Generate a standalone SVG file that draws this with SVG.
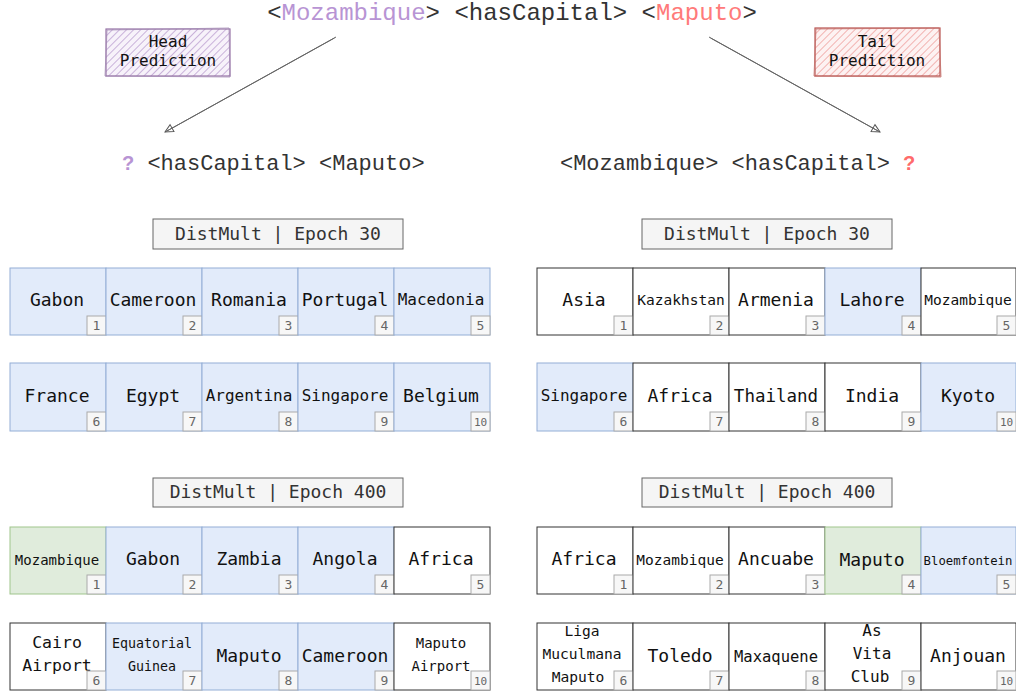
<svg xmlns="http://www.w3.org/2000/svg" width="1016" height="691" viewBox="0 0 1016 691">
<style>
.mono{font-family:"DejaVu Sans Mono","Liberation Mono",monospace;}
.cour{font-family:"Liberation Mono","Courier New",monospace;fill:#333;}
.cell text{font-family:"DejaVu Sans Mono","Liberation Mono",monospace;fill:#111;text-anchor:middle;}
.blue{fill:#e2ebfa;stroke:#93aed6;stroke-width:1;}
.white{fill:#ffffff;stroke:#333;stroke-width:1;}
.green{fill:#e0ecdc;stroke:#9fc58c;stroke-width:1;}
.nb{fill:#f7f7f7;stroke:#aaa;stroke-width:1;}
.cell text.n{font-size:13px;fill:#666;}
.cell text.n2{font-size:11px;fill:#666;}
.title rect{fill:#f5f5f5;stroke:#666;stroke-width:1;}
.title text{font-family:"DejaVu Sans Mono","Liberation Mono",monospace;font-size:18px;fill:#333;text-anchor:middle;}
.conn{stroke:#666;stroke-width:1;fill:none;}
.lbl text{font-family:"DejaVu Sans Mono","Liberation Mono",monospace;font-size:16px;fill:#111;text-anchor:middle;}
</style>
<defs>
<pattern id="hatchP" width="5" height="5" patternUnits="userSpaceOnUse" patternTransform="rotate(45)">
<rect width="5" height="5" fill="#f7f2fa"/>
<line x1="0" y1="0" x2="0" y2="5" stroke="#c9b2da" stroke-width="2"/>
</pattern>
<pattern id="hatchR" width="5" height="5" patternUnits="userSpaceOnUse" patternTransform="rotate(45)">
<rect width="5" height="5" fill="#fdf2f2"/>
<line x1="0" y1="0" x2="0" y2="5" stroke="#f2b3b1" stroke-width="2"/>
</pattern>
<marker id="arr" markerWidth="12" markerHeight="12" refX="10" refY="6" orient="auto" markerUnits="userSpaceOnUse">
<path d="M2,2 L10,6 L2,10 Z" fill="none" stroke="#555" stroke-width="1"/>
</marker>
</defs>
<rect width="1016" height="691" fill="#ffffff"/>

<g id="query-top">
<text class="cour" x="512" y="20" font-size="24" text-anchor="middle">&lt;<tspan fill="#b894d4">Mozambique</tspan>&gt; &lt;hasCapital&gt; &lt;<tspan fill="#ff7a7a">Maputo</tspan>&gt;</text>
</g>
<g id="query-head">
<text x="128" y="170" font-family="'Liberation Sans',Arial,sans-serif" font-weight="bold" font-size="20" fill="#b894d4" text-anchor="middle">?</text>
<text class="cour" x="286" y="170" font-size="22" text-anchor="middle">&lt;hasCapital&gt; &lt;Maputo&gt;</text>
</g>
<g id="query-tail">
<text class="cour" x="725" y="170" font-size="22" text-anchor="middle">&lt;Mozambique&gt; &lt;hasCapital&gt;</text>
<text x="909" y="170" font-family="'Liberation Sans',Arial,sans-serif" font-weight="bold" font-size="20" fill="#ff6b6b" text-anchor="middle">?</text>
</g>

<g id="head-prediction" class="lbl">
<rect x="106" y="29" width="124" height="47" fill="url(#hatchP)" stroke="#9673a6" stroke-width="1.2"/>
<path d="M107,30 L229,28 L230,77 L105,76 Z" fill="none" stroke="#a58bb5" stroke-width="0.8"/>
<text x="168" y="47">Head</text>
<text x="168" y="66">Prediction</text>
</g>
<g id="tail-prediction" class="lbl">
<rect x="815" y="28" width="125" height="48" fill="url(#hatchR)" stroke="#b85450" stroke-width="1.2"/>
<path d="M816,29 L939,28 L941,77 L814,76 Z" fill="none" stroke="#c46e6a" stroke-width="0.8"/>
<text x="877" y="47">Tail</text>
<text x="877" y="66">Prediction</text>
</g>

<g id="connectors">
<path class="conn" d="M336,37 L165,132" marker-end="url(#arr)"/>
<path class="conn" d="M334.5,38 L167,131"/>
<path class="conn" d="M709,37 L880,132" marker-end="url(#arr)"/>
<path class="conn" d="M710.5,38 L878,131"/>
</g>

<g id="title-l30" class="title"><rect x="153" y="219" width="250" height="30"/><text x="278" y="240">DistMult | Epoch 30</text></g>
<g id="title-r30" class="title"><rect x="642" y="219" width="250" height="30"/><text x="767" y="240">DistMult | Epoch 30</text></g>
<g id="title-l400" class="title"><rect x="153" y="478" width="250" height="29"/><text x="278" y="498">DistMult | Epoch 400</text></g>
<g id="title-r400" class="title"><rect x="642" y="478" width="250" height="29"/><text x="767" y="498">DistMult | Epoch 400</text></g>

<!-- Left Epoch 30 row 1 -->
<g id="l30-1" class="cell"><rect class="blue" x="10" y="268" width="96" height="67"/><text x="57" y="306" font-size="18">Gabon</text><rect class="nb" x="87" y="316" width="19" height="19"/><text class="n" x="96.5" y="330">1</text></g>
<g id="l30-2" class="cell"><rect class="blue" x="106" y="268" width="96" height="67"/><text x="153" y="306" font-size="18">Cameroon</text><rect class="nb" x="183" y="316" width="19" height="19"/><text class="n" x="192.5" y="330">2</text></g>
<g id="l30-3" class="cell"><rect class="blue" x="202" y="268" width="96" height="67"/><text x="249" y="306" font-size="18">Romania</text><rect class="nb" x="279" y="316" width="19" height="19"/><text class="n" x="288.5" y="330">3</text></g>
<g id="l30-4" class="cell"><rect class="blue" x="298" y="268" width="96" height="67"/><text x="345" y="306" font-size="18">Portugal</text><rect class="nb" x="375" y="316" width="19" height="19"/><text class="n" x="384.5" y="330">4</text></g>
<g id="l30-5" class="cell"><rect class="blue" x="394" y="268" width="96" height="67"/><text x="441" y="305" font-size="16">Macedonia</text><rect class="nb" x="471" y="316" width="19" height="19"/><text class="n" x="480.5" y="330">5</text></g>
<!-- Left Epoch 30 row 2 -->
<g id="l30-6" class="cell"><rect class="blue" x="10" y="363" width="96" height="68"/><text x="57" y="402" font-size="18">France</text><rect class="nb" x="87" y="412" width="19" height="19"/><text class="n" x="96.5" y="426">6</text></g>
<g id="l30-7" class="cell"><rect class="blue" x="106" y="363" width="96" height="68"/><text x="153" y="402" font-size="18">Egypt</text><rect class="nb" x="183" y="412" width="19" height="19"/><text class="n" x="192.5" y="426">7</text></g>
<g id="l30-8" class="cell"><rect class="blue" x="202" y="363" width="96" height="68"/><text x="249" y="401" font-size="16">Argentina</text><rect class="nb" x="279" y="412" width="19" height="19"/><text class="n" x="288.5" y="426">8</text></g>
<g id="l30-9" class="cell"><rect class="blue" x="298" y="363" width="96" height="68"/><text x="345" y="401" font-size="16">Singapore</text><rect class="nb" x="375" y="412" width="19" height="19"/><text class="n" x="384.5" y="426">9</text></g>
<g id="l30-10" class="cell"><rect class="blue" x="394" y="363" width="96" height="68"/><text x="441" y="402" font-size="18">Belgium</text><rect class="nb" x="471" y="412" width="19" height="19"/><text class="n2" x="480.5" y="425.5">10</text></g>

<!-- Right Epoch 30 row 1 -->
<g id="r30-1" class="cell"><rect class="white" x="537" y="268" width="96" height="67"/><text x="584" y="306" font-size="18">Asia</text><rect class="nb" x="614" y="316" width="19" height="19"/><text class="n" x="623.5" y="330">1</text></g>
<g id="r30-2" class="cell"><rect class="white" x="633" y="268" width="96" height="67"/><text x="681" y="305" font-size="14.5">Kazakhstan</text><rect class="nb" x="710" y="316" width="19" height="19"/><text class="n" x="719.5" y="330">2</text></g>
<g id="r30-3" class="cell"><rect class="white" x="729" y="268" width="96" height="67"/><text x="776" y="306" font-size="18">Armenia</text><rect class="nb" x="806" y="316" width="19" height="19"/><text class="n" x="815.5" y="330">3</text></g>
<g id="r30-4" class="cell"><rect class="blue" x="825" y="268" width="96" height="67"/><text x="872" y="306" font-size="18">Lahore</text><rect class="nb" x="902" y="316" width="19" height="19"/><text class="n" x="911.5" y="330">4</text></g>
<g id="r30-5" class="cell"><rect class="white" x="921" y="268" width="95" height="67"/><text x="968" y="305" font-size="14.5">Mozambique</text><rect class="nb" x="997" y="316" width="19" height="19"/><text class="n" x="1006.5" y="330">5</text></g>
<!-- Right Epoch 30 row 2 -->
<g id="r30-6" class="cell"><rect class="blue" x="537" y="363" width="96" height="68"/><text x="584" y="401" font-size="16">Singapore</text><rect class="nb" x="614" y="412" width="19" height="19"/><text class="n" x="623.5" y="426">6</text></g>
<g id="r30-7" class="cell"><rect class="white" x="633" y="363" width="96" height="68"/><text x="680" y="402" font-size="18">Africa</text><rect class="nb" x="710" y="412" width="19" height="19"/><text class="n" x="719.5" y="426">7</text></g>
<g id="r30-8" class="cell"><rect class="white" x="729" y="363" width="96" height="68"/><text x="776" y="402" font-size="17.5">Thailand</text><rect class="nb" x="806" y="412" width="19" height="19"/><text class="n" x="815.5" y="426">8</text></g>
<g id="r30-9" class="cell"><rect class="white" x="825" y="363" width="96" height="68"/><text x="872" y="402" font-size="18">India</text><rect class="nb" x="902" y="412" width="19" height="19"/><text class="n" x="911.5" y="426">9</text></g>
<g id="r30-10" class="cell"><rect class="blue" x="921" y="363" width="95" height="68"/><text x="968" y="402" font-size="18">Kyoto</text><rect class="nb" x="997" y="412" width="19" height="19"/><text class="n2" x="1006.5" y="425.5">10</text></g>

<!-- Left Epoch 400 row 1 -->
<g id="l400-1" class="cell"><rect class="green" x="10" y="527" width="96" height="67"/><text x="57" y="565" font-size="14">Mozambique</text><rect class="nb" x="87" y="575" width="19" height="19"/><text class="n" x="96.5" y="589">1</text></g>
<g id="l400-2" class="cell"><rect class="blue" x="106" y="527" width="96" height="67"/><text x="153" y="565" font-size="18">Gabon</text><rect class="nb" x="183" y="575" width="19" height="19"/><text class="n" x="192.5" y="589">2</text></g>
<g id="l400-3" class="cell"><rect class="blue" x="202" y="527" width="96" height="67"/><text x="249" y="565" font-size="18">Zambia</text><rect class="nb" x="279" y="575" width="19" height="19"/><text class="n" x="288.5" y="589">3</text></g>
<g id="l400-4" class="cell"><rect class="blue" x="298" y="527" width="96" height="67"/><text x="345" y="565" font-size="18">Angola</text><rect class="nb" x="375" y="575" width="19" height="19"/><text class="n" x="384.5" y="589">4</text></g>
<g id="l400-5" class="cell"><rect class="white" x="394" y="527" width="96" height="67"/><text x="441" y="565" font-size="18">Africa</text><rect class="nb" x="471" y="575" width="19" height="19"/><text class="n" x="480.5" y="589">5</text></g>
<!-- Left Epoch 400 row 2 -->
<g id="l400-6" class="cell"><rect class="white" x="10" y="623" width="96" height="67"/><text x="57" y="648" font-size="16.5">Cairo</text><text x="57" y="671" font-size="16.5">Airport</text><rect class="nb" x="87" y="671" width="19" height="19"/><text class="n" x="96.5" y="685">6</text></g>
<g id="l400-7" class="cell"><rect class="blue" x="106" y="623" width="96" height="67"/><text x="152" y="648" font-size="13.3">Equatorial</text><text x="152" y="671" font-size="13.3">Guinea</text><rect class="nb" x="183" y="671" width="19" height="19"/><text class="n" x="192.5" y="685">7</text></g>
<g id="l400-8" class="cell"><rect class="blue" x="202" y="623" width="96" height="67"/><text x="249" y="662" font-size="18">Maputo</text><rect class="nb" x="279" y="671" width="19" height="19"/><text class="n" x="288.5" y="685">8</text></g>
<g id="l400-9" class="cell"><rect class="blue" x="298" y="623" width="96" height="67"/><text x="345" y="662" font-size="18">Cameroon</text><rect class="nb" x="375" y="671" width="19" height="19"/><text class="n" x="384.5" y="685">9</text></g>
<g id="l400-10" class="cell"><rect class="white" x="394" y="623" width="96" height="67"/><text x="441" y="648" font-size="14">Maputo</text><text x="441" y="671" font-size="14">Airport</text><rect class="nb" x="471" y="671" width="19" height="19"/><text class="n2" x="480.5" y="684.5">10</text></g>

<!-- Right Epoch 400 row 1 -->
<g id="r400-1" class="cell"><rect class="white" x="537" y="527" width="96" height="67"/><text x="584" y="565" font-size="18">Africa</text><rect class="nb" x="614" y="575" width="19" height="19"/><text class="n" x="623.5" y="589">1</text></g>
<g id="r400-2" class="cell"><rect class="white" x="633" y="527" width="96" height="67"/><text x="680" y="565" font-size="14.5">Mozambique</text><rect class="nb" x="710" y="575" width="19" height="19"/><text class="n" x="719.5" y="589">2</text></g>
<g id="r400-3" class="cell"><rect class="white" x="729" y="527" width="96" height="67"/><text x="776" y="565" font-size="18">Ancuabe</text><rect class="nb" x="806" y="575" width="19" height="19"/><text class="n" x="815.5" y="589">3</text></g>
<g id="r400-4" class="cell"><rect class="green" x="825" y="527" width="96" height="67"/><text x="872" y="566" font-size="18">Maputo</text><rect class="nb" x="902" y="575" width="19" height="19"/><text class="n" x="911.5" y="589">4</text></g>
<g id="r400-5" class="cell"><rect class="blue" x="921" y="527" width="95" height="67"/><text x="968" y="565" font-size="12.3">Bloemfontein</text><rect class="nb" x="997" y="575" width="19" height="19"/><text class="n" x="1006.5" y="589">5</text></g>
<!-- Right Epoch 400 row 2 -->
<g id="r400-6" class="cell"><rect class="white" x="537" y="623" width="96" height="67"/><text x="582" y="636" font-size="14.6">Liga</text><text x="582" y="659" font-size="14.6">Muculmana</text><text x="578" y="682" font-size="14.6">Maputo</text><rect class="nb" x="614" y="671" width="19" height="19"/><text class="n" x="623.5" y="685">6</text></g>
<g id="r400-7" class="cell"><rect class="white" x="633" y="623" width="96" height="67"/><text x="680" y="662" font-size="18">Toledo</text><rect class="nb" x="710" y="671" width="19" height="19"/><text class="n" x="719.5" y="685">7</text></g>
<g id="r400-8" class="cell"><rect class="white" x="729" y="623" width="96" height="67"/><text x="776" y="662" font-size="15.5">Maxaquene</text><rect class="nb" x="806" y="671" width="19" height="19"/><text class="n" x="815.5" y="685">8</text></g>
<g id="r400-9" class="cell"><rect class="white" x="825" y="623" width="96" height="67"/><text x="872" y="636" font-size="16">As</text><text x="872" y="659" font-size="16">Vita</text><text x="870" y="682" font-size="16">Club</text><rect class="nb" x="902" y="671" width="19" height="19"/><text class="n" x="911.5" y="685">9</text></g>
<g id="r400-10" class="cell"><rect class="white" x="921" y="623" width="95" height="67"/><text x="968" y="662" font-size="18">Anjouan</text><rect class="nb" x="997" y="671" width="19" height="19"/><text class="n2" x="1006.5" y="684.5">10</text></g>
</svg>
